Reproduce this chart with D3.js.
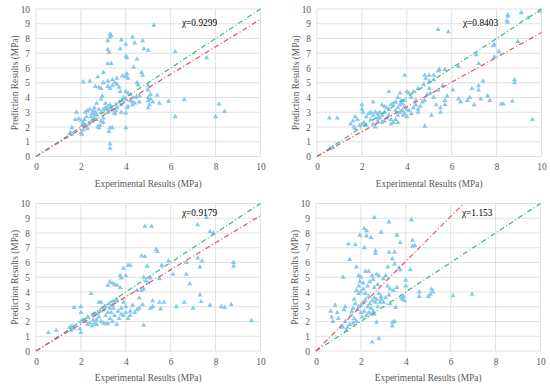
<!DOCTYPE html>
<html><head><meta charset="utf-8">
<script src="https://cdn.jsdelivr.net/npm/d3@7"></script>
<style>body{margin:0;background:#fff}svg{display:block}</style>
</head><body><svg id="c" width="550" height="386"></svg>
<script>
const xTicks = [0,2,4,6,8,10];
const yTicks = [0,1,2,3,4,5,6,7,8,9,10];
const xTitle = "Experimental Results (MPa)";
const yTitle = "Prediction Results (MPa)";
const chiLabels = ["χ=0.9299","χ=0.8403","χ=0.9179","χ=1.153"];
const redSlopes = [0.9299, 0.8403, 0.9179, 1.52];

const panel1 = [[5.25,8.9],[3.3,8.3],[3.35,8.2],[3.3,8.1],[4.3,8.1],[3.8,7.9],[4.4,7.7],[4.75,7.85],[3.2,7.85],[4.0,7.6],[3.2,7.25],[3.25,7.05],[3.75,7.3],[4.8,7.3],[5.0,7.2],[6.2,7.1],[7.6,6.7],[4.0,6.8],[4.05,6.7],[4.5,6.6],[3.2,6.3],[3.35,6.3],[4.35,6.05],[4.0,5.5],[4.05,5.6],[4.0,5.4],[4.1,5.3],[3.85,5.45],[3.0,5.7],[4.7,5.7],[4.75,5.5],[2.1,5.05],[2.4,5.1],[2.75,5.4],[3.0,5.0],[3.2,5.1],[3.4,5.2],[3.6,5.3],[3.5,5.0],[3.2,4.75],[3.3,4.6],[2.65,4.75],[2.8,4.7],[2.9,4.6],[3.4,4.8],[3.6,4.9],[3.7,4.7],[3.75,4.4],[4.0,4.4],[4.1,4.3],[4.5,5.0],[4.55,4.85],[5.0,4.8],[5.0,4.5],[5.1,4.2],[5.4,4.15],[5.0,4.0],[5.0,3.8],[5.1,3.9],[5.2,3.7],[5.5,3.6],[5.9,3.75],[6.6,3.85],[6.2,2.7],[8.0,2.7],[8.15,3.55],[8.4,3.05],[5.0,3.3],[5.05,3.5],[3.1,3.3],[3.15,3.2],[3.2,3.4],[3.25,3.1],[3.3,3.5],[3.0,3.2],[3.1,3.6],[3.35,3.3],[3.2,3.0],[3.4,3.15],[2.9,3.9],[2.95,4.1],[2.7,3.6],[2.6,3.3],[2.55,3.1],[2.5,2.9],[2.45,2.7],[2.6,2.8],[2.7,2.5],[2.65,3.0],[2.4,3.2],[2.3,3.1],[2.2,3.0],[2.25,2.7],[2.15,2.5],[2.1,2.3],[2.0,2.45],[2.05,2.1],[2.0,1.6],[2.05,1.5],[2.1,1.8],[2.2,2.0],[2.3,1.9],[2.35,2.2],[1.9,2.55],[1.8,3.0],[1.75,2.5],[1.6,1.95],[1.55,1.6],[1.5,1.55],[1.6,1.5],[2.75,2.0],[2.8,1.95],[2.85,2.1],[3.0,2.3],[3.0,2.6],[2.9,2.4],[3.3,1.95],[3.4,1.95],[3.25,1.7],[3.3,0.85],[3.3,0.55],[4.0,1.95],[4.0,2.95],[4.05,3.3],[3.5,2.9],[3.6,3.3],[3.55,3.5],[3.7,3.7],[3.85,3.8],[3.9,4.0],[4.0,3.9],[4.2,3.8],[4.3,3.7],[4.3,3.5],[4.4,3.6],[4.6,3.7],[4.45,4.0],[4.6,4.1],[4.2,4.2],[3.8,3.5],[3.8,3.0],[4.1,3.4],[3.5,3.0],[3.55,3.1],[2.6,2.5],[2.7,2.85],[2.5,2.4],[2.4,2.3],[2.8,3.2],[2.9,3.0]];

const panel2 = [[9.9,9.85],[9.1,9.75],[9.4,9.4],[8.5,9.6],[8.5,9.5],[8.45,9.2],[8.5,9.1],[5.4,8.6],[5.85,8.45],[7.9,7.6],[7.85,7.5],[8.95,7.8],[8.1,7.1],[7.9,6.75],[7.1,6.9],[7.2,6.3],[6.3,6.1],[5.4,5.8],[5.45,5.9],[5.7,5.9],[5.0,5.5],[5.2,5.5],[3.9,5.5],[4.8,5.5],[4.85,5.3],[5.0,5.1],[5.2,5.2],[4.75,4.9],[4.5,4.6],[5.6,4.8],[5.4,4.5],[6.05,4.5],[6.9,4.6],[7.2,4.5],[7.2,4.8],[7.4,5.1],[8.8,5.2],[8.8,5.0],[7.6,4.1],[7.3,3.9],[7.7,3.8],[7.0,3.5],[6.4,3.7],[6.3,3.9],[6.7,3.8],[6.8,4.0],[8.2,3.55],[8.3,3.55],[8.7,3.75],[9.6,2.5],[5.3,3.5],[5.5,3.3],[5.7,3.5],[5.7,3.8],[5.8,4.1],[5.2,4.0],[5.1,2.8],[5.5,3.0],[4.8,2.05],[4.3,4.4],[4.1,4.3],[4.0,4.4],[3.7,4.3],[3.6,4.0],[3.75,3.8],[3.5,3.7],[3.4,3.6],[3.3,3.5],[3.6,3.3],[3.7,3.5],[3.8,3.6],[3.9,3.8],[3.2,4.4],[3.0,3.4],[2.9,3.5],[2.8,3.0],[2.7,2.9],[2.6,3.0],[2.5,2.8],[2.4,3.0],[2.3,2.9],[2.2,2.7],[2.1,2.3],[2.0,2.2],[1.9,2.1],[2.0,3.5],[2.0,3.2],[2.05,3.0],[1.7,2.7],[1.6,2.4],[1.5,2.2],[1.65,2.0],[1.7,1.9],[1.8,2.5],[2.5,3.7],[2.5,2.2],[2.6,2.0],[2.7,2.4],[2.8,2.6],[2.9,2.3],[3.0,2.4],[3.1,2.6],[3.2,2.8],[3.3,2.5],[3.4,2.3],[3.5,2.5],[3.6,2.8],[3.7,3.0],[3.8,3.1],[3.9,2.9],[4.0,3.2],[4.1,3.1],[4.2,2.9],[4.3,3.3],[4.4,3.5],[4.5,3.0],[4.6,3.4],[4.7,3.7],[4.8,3.8],[4.2,4.0],[4.4,3.8],[4.0,2.7],[3.85,2.8],[3.5,3.1],[3.2,3.2],[3.0,3.0],[3.1,3.3],[2.9,2.8],[2.7,2.6],[2.4,2.5],[2.2,2.1],[3.3,2.2],[3.6,2.3],[3.9,3.4],[4.5,3.2],[4.9,4.2],[5.0,4.6],[5.05,4.3],[0.55,2.6],[0.9,2.6],[0.6,0.55],[0.7,0.6]];

const panel3 = [[7.6,9.05],[4.85,8.45],[5.15,8.45],[7.2,8.55],[7.75,8.1],[7.9,8.0],[5.35,6.9],[5.4,6.75],[4.7,6.45],[4.85,6.4],[7.2,6.3],[7.4,6.1],[6.7,6.0],[7.3,5.7],[8.8,6.0],[8.8,5.75],[5.9,6.1],[6.1,5.2],[6.7,5.2],[6.85,4.55],[5.6,5.8],[4.95,5.75],[4.1,5.8],[4.2,5.8],[3.9,5.6],[4.0,5.1],[3.75,5.1],[3.8,4.95],[3.5,4.5],[3.4,4.6],[3.3,4.7],[3.2,4.45],[3.6,4.45],[3.75,4.3],[4.8,5.0],[4.9,4.75],[5.0,4.6],[5.1,4.95],[5.5,4.9],[5.2,3.4],[5.5,3.3],[5.7,3.3],[5.55,2.85],[5.1,2.9],[5.2,3.0],[6.25,3.0],[6.6,3.3],[7.0,2.9],[7.3,3.8],[7.35,3.35],[7.75,3.1],[8.25,3.0],[8.4,2.95],[8.7,3.15],[9.6,2.05],[4.8,1.75],[4.75,3.15],[4.6,3.6],[4.7,4.1],[4.5,4.1],[4.8,4.2],[4.3,3.1],[4.6,2.9],[4.2,2.7],[4.4,2.6],[4.5,2.8],[4.0,3.0],[3.9,3.3],[3.8,2.9],[3.6,3.5],[3.55,3.4],[3.5,3.3],[3.4,3.1],[3.3,2.9],[3.2,2.6],[3.1,2.4],[3.0,2.8],[3.05,3.0],[2.9,3.3],[3.1,3.0],[2.8,2.3],[2.7,2.1],[2.6,1.9],[2.5,1.7],[2.4,1.9],[2.3,2.3],[2.2,2.0],[2.1,2.1],[2.0,2.0],[1.95,1.5],[2.0,1.25],[2.0,2.6],[2.0,3.0],[1.7,2.95],[2.45,3.9],[2.65,2.5],[2.55,2.45],[2.8,3.3],[2.9,2.0],[3.0,1.9],[3.1,1.85],[3.2,1.85],[3.3,2.2],[3.4,2.0],[3.5,2.4],[3.6,1.8],[3.7,2.2],[3.8,2.5],[3.9,2.4],[4.0,2.6],[4.1,2.2],[4.2,2.4],[3.65,2.7],[3.45,2.9],[3.25,3.2],[2.85,2.7],[2.7,1.8],[2.55,2.1],[2.3,1.8],[1.6,1.5],[1.5,1.6],[1.6,1.7],[1.7,1.55],[1.55,1.4],[0.9,1.4],[0.55,1.25],[2.75,2.55],[3.35,2.6]];

const panel4 = [[2.6,9.05],[4.25,8.9],[3.25,8.75],[2.15,8.3],[2.25,8.15],[2.9,8.05],[1.95,7.85],[2.25,7.8],[2.45,7.7],[3.6,7.85],[4.3,7.5],[3.75,7.35],[1.45,7.25],[1.75,7.2],[2.15,7.0],[4.3,7.1],[4.4,7.15],[2.65,6.8],[2.65,6.6],[3.25,6.7],[3.5,6.7],[1.5,6.2],[3.4,6.25],[1.8,5.7],[3.5,5.9],[3.7,5.65],[3.75,5.5],[4.2,5.5],[3.2,5.7],[2.2,5.4],[2.35,5.4],[1.2,5.0],[1.9,5.1],[2.0,5.0],[2.5,5.1],[2.7,5.2],[2.8,5.1],[3.0,4.9],[3.1,5.1],[2.55,4.85],[2.4,4.7],[2.1,4.6],[1.95,4.7],[1.9,4.4],[2.1,4.2],[2.3,4.4],[2.6,4.3],[2.75,4.5],[3.2,4.4],[3.3,4.2],[4.0,4.8],[4.0,4.4],[3.45,4.1],[3.6,4.3],[3.85,3.5],[3.9,3.7],[3.8,3.6],[3.95,3.4],[4.6,4.0],[4.6,3.7],[5.15,4.2],[5.2,4.0],[5.1,3.85],[5.0,3.7],[6.1,3.75],[6.95,3.85],[3.3,3.2],[3.55,2.95],[3.4,1.95],[3.5,2.0],[3.4,1.7],[2.85,3.3],[2.7,3.5],[2.6,3.6],[2.9,3.7],[2.8,3.9],[2.5,3.4],[2.4,3.2],[2.3,3.0],[2.2,3.5],[2.1,3.3],[2.0,3.1],[1.9,3.0],[1.85,2.8],[1.75,3.2],[1.7,3.5],[1.65,2.9],[1.6,2.7],[1.55,2.4],[1.7,2.2],[1.8,2.0],[1.65,1.9],[1.5,1.8],[1.3,2.0],[1.2,1.6],[1.1,1.6],[1.35,1.4],[1.4,1.6],[1.25,2.8],[1.3,3.0],[1.0,2.2],[0.85,3.1],[0.75,2.0],[0.65,2.7],[0.7,2.3],[0.95,2.6],[2.2,3.9],[2.35,3.7],[2.45,2.9],[2.55,2.7],[2.6,2.5],[2.7,1.95],[2.0,2.6],[2.05,2.3],[2.15,2.7],[2.25,2.4],[2.35,2.6],[2.45,2.5],[2.5,0.6],[2.8,0.85],[3.0,3.3],[3.1,3.6],[2.9,3.5],[2.65,3.3],[2.75,3.0],[1.9,3.9],[1.8,4.1],[2.0,4.0],[3.25,3.8]];

const panels = [panel1, panel2, panel3, panel4];

// layout
const FONT = "Liberation Serif";
const FS = "9.4px";
const origins = [[36, 9],[317, 9],[36, 203.5],[316, 203.5]];
const W = 224.5, H = 147.5;
const svg = d3.select("#c");

function styleText(sel, color) {
  sel.style("font-family", FONT).style("font-size", FS).style("font-weight", "normal").attr("fill", color);
}

panels.forEach((pts, i) => {
  const [ox, oy] = origins[i];
  const g = svg.append("g").attr("transform", `translate(${ox},${oy})`);
  const x = d3.scaleLinear().domain([0,10]).range([0, W]);
  const y = d3.scaleLinear().domain([0,10]).range([H, 0]);
  g.append("g").selectAll("line").data(yTicks).join("line")
    .attr("x1", 0).attr("x2", W).attr("y1", d => y(d)).attr("y2", d => y(d))
    .attr("stroke", "#d9d9d9").attr("stroke-width", 0.8);
  g.append("g").selectAll("line").data(xTicks).join("line")
    .attr("y1", 0).attr("y2", H).attr("x1", d => x(d)).attr("x2", d => x(d))
    .attr("stroke", "#d9d9d9").attr("stroke-width", 0.8);
  const xa = g.append("g").attr("transform", `translate(0,${H})`)
    .call(d3.axisBottom(x).tickValues(xTicks).tickSize(0).tickPadding(7));
  const ya = g.append("g").call(d3.axisLeft(y).tickValues(yTicks).tickSize(0).tickPadding(6));
  [xa, ya].forEach(a => {
    a.select(".domain").remove();
    a.attr("font-family", FONT);
    styleText(a.selectAll("text"), "#595959");
  });
  styleText(g.append("text").attr("x", W/2).attr("y", H + 30).attr("text-anchor", "middle").text(xTitle), "#595959");
  styleText(g.append("text").attr("transform", `translate(${-18},${H/2}) rotate(-90)`).attr("text-anchor", "middle").text(yTitle), "#595959");
  g.append("g").selectAll("path").data(pts).join("path")
    .attr("d", d3.symbol().type(d3.symbolTriangle).size(11))
    .attr("transform", d => `translate(${x(d[0])},${y(d[1])})`)
    .attr("fill", "#85c9ea");
  g.append("line").attr("x1", x(0)).attr("y1", y(0)).attr("x2", x(10)).attr("y2", y(10))
    .attr("stroke", "#3db383").attr("stroke-width", 1.2).attr("stroke-dasharray", "5,2.5,1,2.5");
  const s = redSlopes[i];
  const xe = Math.min(10, 10 / s);
  g.append("line").attr("x1", x(0)).attr("y1", y(0)).attr("x2", x(xe)).attr("y2", y(xe * s))
    .attr("stroke", "#e0506e").attr("stroke-width", 1.2).attr("stroke-dasharray", "5,2.5,1,2.5");
  const ly = i < 2 ? 9.1 : 9.4;
  styleText(g.append("text").attr("x", x(6.5)).attr("y", y(ly) + 3.5).text(chiLabels[i]), "#000");
});
</script></body></html>
